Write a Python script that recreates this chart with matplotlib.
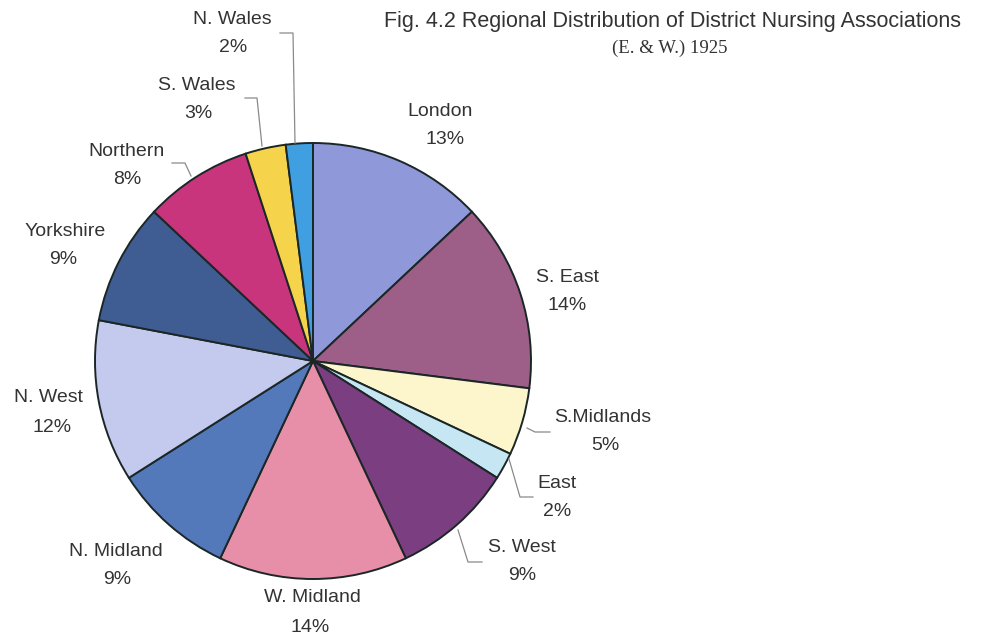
import matplotlib.pyplot as plt

regions = ["London", "S. East", "S.Midlands", "East", "S. West", "W. Midland",
           "N. Midland", "N. West", "Yorkshire", "Northern", "S. Wales", "N. Wales"]
shares = [13, 14, 5, 2, 9, 14, 9, 12, 9, 8, 3, 2]
colors = ["#8f99d9", "#9d5e87", "#fdf5cc", "#c6e6f4", "#7b3e80", "#e78fa8",
          "#5479ba", "#c3caee", "#3f5d92", "#c8357d", "#f5d34a", "#3f9fe0"]

H = 637
# label text centres (image px): name line, then percent line
label_pos = [(440, 112), (567, 278), (603, 417), (557, 484), (522, 548), (312, 598),
             (116, 552), (49, 398), (65, 232), (127, 152), (197, 85), (232, 20)]
pct_pos = [(445, 139), (567, 305), (605, 445), (557, 512), (522, 576), (310, 628),
           (117, 580), (52, 427), (63, 260), (127, 180), (198, 113), (233, 48)]
# leader lines for the small / crowded slices
leaders = {
    "N. Wales": [(280, 33), (293, 33), (295, 143)],
    "S. Wales": [(245, 98), (257, 98), (262, 146)],
    "Northern": [(172, 163), (185, 163), (191, 176)],
    "S.Midlands": [(527, 428), (535, 432), (550, 432)],
    "East": [(509, 459), (520, 497), (533, 497)],
    "S. West": [(458, 530), (468, 562), (482, 562)],
}

fig = plt.figure(figsize=(9.96, 6.37), dpi=100)
ax = fig.add_axes([0, 0, 1, 1])

ax.pie(shares, colors=colors, startangle=90, counterclock=False,
       center=(313, H - 361), radius=218, frame=True,
       wedgeprops=dict(edgecolor="#1b2626", linewidth=1.4))
ax.set_xlim(0, 996)
ax.set_ylim(0, H)
ax.set_aspect("equal")
ax.axis("off")

for name, val, (x, y), (px, py) in zip(regions, shares, label_pos, pct_pos):
    ax.text(x, H - y, name, ha="center", va="center", fontsize=14,
            family="Liberation Sans", color="#333333")
    ax.text(px, H - py, f"{val}%", ha="center", va="center", fontsize=14,
            family="Liberation Sans", color="#333333")

for name, pts in leaders.items():
    ax.plot([p[0] for p in pts], [H - p[1] for p in pts], color="#8a8a8a", lw=0.9)

ax.text(673, H - 22, "Fig. 4.2 Regional Distribution of District Nursing Associations",
        ha="center", va="center", fontsize=15.5, family="Liberation Sans", color="#333333")
ax.text(670, H - 48, "(E. & W.) 1925", ha="center", va="center", fontsize=13.5,
        family="Liberation Serif", color="#333333")

fig.savefig("out.png", dpi=100)
